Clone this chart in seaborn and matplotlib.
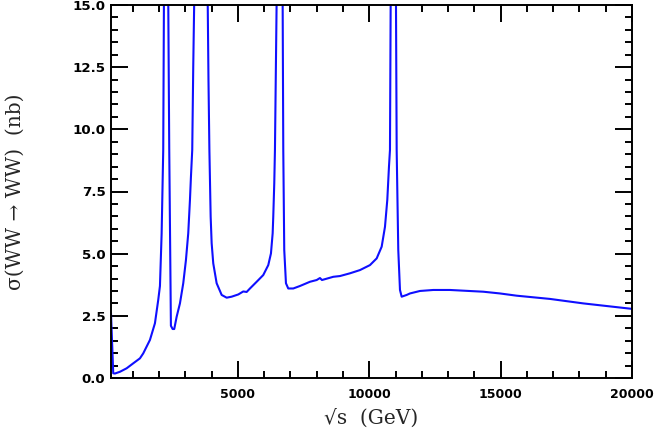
import pandas as pd
import matplotlib
matplotlib.use("Agg")
import matplotlib.pyplot as plt
from matplotlib.ticker import MultipleLocator
import seaborn as sns

# sqrt(s) in GeV
sqrt_s = [170, 255, 320, 510, 765, 1016, 1271, 1397, 1652, 1842, 1968, 2033, 2097, 2158,
          2185, 2265, 2349, 2387, 2450, 2516, 2577,
          2668, 2794, 2920, 3022, 3110, 3175, 3213, 3262, 3300, 3338, 3600, 3850,
          3880, 3915, 3963, 4001, 4062, 4191, 4382, 4572, 4762, 5015, 5078, 5204,
          5333, 5459, 5714, 5965, 6156, 6258, 6323, 6346, 6384, 6410, 6475, 6590,
          6703, 6727, 6764, 6829, 6917, 7107, 7362, 7743, 7998, 8123, 8200, 8630,
          8885, 9265, 9646, 10026, 10282, 10472, 10598, 10686, 10750, 10788, 10815,
          10915, 11016, 11043, 11104, 11169, 11233, 11424, 11549, 11930, 12436,
          13071, 14339, 14975, 15611, 16878, 18146, 20000]
# cross section in nb (peak tops are off scale, estimated)
sigma = [2.6, 0.19, 0.18, 0.25, 0.39, 0.59, 0.79, 0.99, 1.53, 2.2, 3.14, 3.7, 5.8, 9.17,
         15.2, 60.0, 15.2, 9.17, 2.1, 1.97, 1.97,
         2.46, 3.0, 3.81, 4.74, 5.82, 7.16, 8.1, 9.17, 12.5, 15.2, 60.0, 15.2,
         12.0, 9.17, 6.49, 5.42, 4.61, 3.81, 3.34, 3.23, 3.27, 3.36, 3.4, 3.48,
         3.46, 3.6, 3.87, 4.14, 4.54, 5.01, 5.82, 6.49, 7.83, 9.17, 15.2, 60.0,
         15.2, 9.17, 5.15, 3.81, 3.6, 3.6, 3.7, 3.87, 3.94, 4.02, 3.94, 4.07,
         4.1, 4.21, 4.34, 4.54, 4.81, 5.28, 6.08, 7.16, 8.5, 9.17, 15.2,
         60.0, 15.2, 9.17, 5.15, 3.54, 3.27, 3.34, 3.4, 3.5, 3.54,
         3.54, 3.47, 3.4, 3.31, 3.18, 3.0, 2.78]

df = pd.DataFrame({"sqrt_s": sqrt_s, "sigma": sigma})

sns.set_style("ticks")
plt.rcParams["font.family"] = ["DejaVu Sans"]

fig = plt.figure(figsize=(6.54, 4.33), dpi=100)
ax = fig.add_axes([111 / 654, 1 - 378 / 433, 521 / 654, 373 / 433])

sns.lineplot(data=df, x="sqrt_s", y="sigma", ax=ax, color="#0f0fff",
             linewidth=1.5, estimator=None, sort=False)

ax.set_xlim(170, 20000)
ax.set_ylim(0, 15)
ax.xaxis.set_major_locator(MultipleLocator(5000))
ax.xaxis.set_minor_locator(MultipleLocator(1000))
ax.yaxis.set_major_locator(MultipleLocator(2.5))
ax.yaxis.set_minor_locator(MultipleLocator(0.5))
ax.yaxis.set_major_formatter(plt.FormatStrFormatter("%.1f"))

ax.tick_params(which="both", direction="in", top=True, right=True, width=1.4,
               colors="black")
ax.tick_params(which="major", length=12)
ax.tick_params(which="minor", length=5)
ax.tick_params(axis="x", pad=7, labelsize=9)
ax.tick_params(axis="y", pad=4, labelsize=9.6)
for lab in ax.get_xticklabels() + ax.get_yticklabels():
    lab.set_fontweight("bold")
for sp in ax.spines.values():
    sp.set_linewidth(1.4)
    sp.set_color("black")

ax.set_xlabel("√s  (GeV)", family="DejaVu Serif", fontsize=14.5)
ax.set_ylabel("σ(WW → WW)  (nb)", family="DejaVu Serif", fontsize=14.5)
ax.xaxis.set_label_coords(0.5, -0.083)
ax.yaxis.set_label_coords(-0.165, 0.5)

fig.savefig("out.png", dpi=100)
